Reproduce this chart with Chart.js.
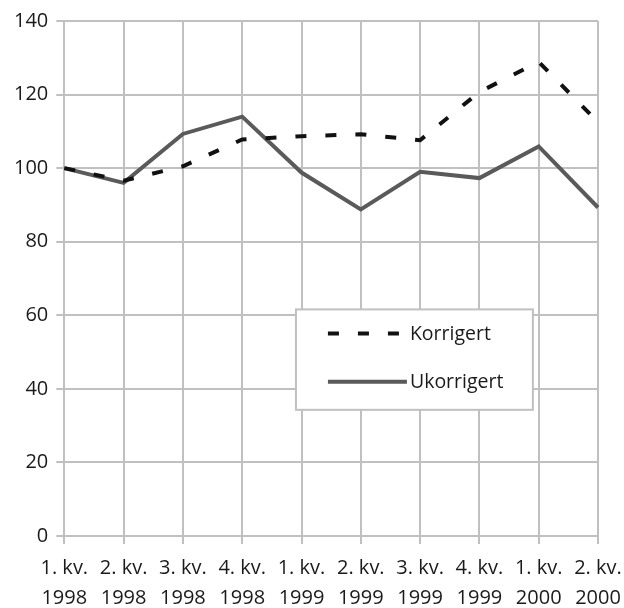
<!DOCTYPE html>
<html>
<head>
<meta charset="utf-8">
<script src="https://cdn.jsdelivr.net/npm/chart.js@4.4.1/dist/chart.umd.min.js"></script>
<style>
  html, body { margin: 0; padding: 0; background: #ffffff; }
  #wrap { width: 624px; height: 608px; position: relative; }
</style>
</head>
<body>
<div id="wrap"><canvas id="c"></canvas></div>
<script>
const categories = [
  ["1. kv.", "1998"], ["2. kv.", "1998"], ["3. kv.", "1998"], ["4. kv.", "1998"],
  ["1. kv.", "1999"], ["2. kv.", "1999"], ["3. kv.", "1999"], ["4. kv.", "1999"],
  ["1. kv.", "2000"], ["2. kv.", "2000"]
];
const korrigert = [100, 96.6, 100.5, 107.8, 108.7, 109.2, 107.6, 120.7, 128.9, 112.5];
const ukorrigert = [100, 96.0, 109.3, 114.0, 98.8, 88.8, 99.0, 97.3, 105.9, 89.3];
const yTicks = [0, 20, 40, 60, 80, 100, 120, 140];
const seriesNames = ["Korrigert", "Ukorrigert"];

const FONT = "'Open Sans', 'Noto Sans', sans-serif";
const GRID = "#c0c0c0";
const TEXT = "#1a1a1a";

const boxLegend = {
  id: 'boxLegend',
  afterDraw(chart) {
    const { ctx, chartArea: a } = chart;
    const w = a.right - a.left, h = a.bottom - a.top;
    const x0 = a.left + w * 0.434, x1 = a.left + w * 0.878;
    const y0 = a.top + h * 0.560, y1 = a.top + h * 0.755;
    ctx.save();
    ctx.fillStyle = '#ffffff';
    ctx.fillRect(x0, y0, x1 - x0, y1 - y0);
    ctx.strokeStyle = GRID;
    ctx.lineWidth = 2;
    ctx.strokeRect(x0, y0, x1 - x0, y1 - y0);
    const lx0 = x0 + 32, lx1 = x0 + 111;
    const rows = [y0 + (y1 - y0) * 0.24, y0 + (y1 - y0) * 0.72];
    chart.data.datasets.forEach((ds, i) => {
      const y = rows[i];
      ctx.beginPath();
      ctx.strokeStyle = ds.borderColor;
      ctx.lineWidth = ds.borderWidth;
      ctx.lineCap = 'butt';
      ctx.setLineDash(ds.borderDash || []);
      ctx.moveTo(lx0, y);
      ctx.lineTo(ds.borderDash ? lx1 - 8 : lx1, y);
      ctx.stroke();
      ctx.setLineDash([]);
      ctx.fillStyle = TEXT;
      ctx.font = "19.5px " + FONT;
      ctx.textBaseline = 'middle';
      ctx.textAlign = 'left';
      ctx.fillText(ds.label, x0 + 114, y + 1);
    });
    ctx.restore();
  }
};

new Chart(document.getElementById('c'), {
  type: 'line',
  data: {
    labels: categories,
    datasets: [
      {
        label: seriesNames[0],
        data: korrigert,
        borderColor: '#111111',
        borderWidth: 4,
        borderDash: [11, 19],
        pointRadius: 0,
        tension: 0,
        fill: false
      },
      {
        label: seriesNames[1],
        data: ukorrigert,
        borderColor: '#5a5a5a',
        borderWidth: 4,
        pointRadius: 0,
        tension: 0,
        fill: false
      }
    ]
  },
  options: {
    responsive: true,
    maintainAspectRatio: false,
    animation: false,
    devicePixelRatio: 1,
    layout: { padding: { left: 6, right: 0, top: 21, bottom: -14 } },
    plugins: {
      legend: { display: false },
      tooltip: { enabled: false }
    },
    scales: {
      x: {
        offset: false,
        afterFit: (s) => { s.paddingRight = 26; },
        grid: { color: GRID, lineWidth: 2, tickLength: 8, drawTicks: true },
        border: { color: GRID, width: 2 },
        ticks: {
          color: TEXT,
          font: { family: FONT, size: 20, lineHeight: 1.5 },
          maxRotation: 0, minRotation: 0, autoSkip: false, padding: 9
        }
      },
      y: {
        min: 0, max: 140,
        afterBuildTicks: (s) => { s.ticks = yTicks.map(v => ({ value: v })); },
        grid: { color: GRID, lineWidth: 2, tickLength: 8 },
        border: { color: GRID, width: 2 },
        ticks: {
          color: TEXT,
          font: { family: FONT, size: 20 },
          padding: 8
        }
      }
    }
  },
  plugins: [boxLegend]
});
</script>
</body>
</html>
